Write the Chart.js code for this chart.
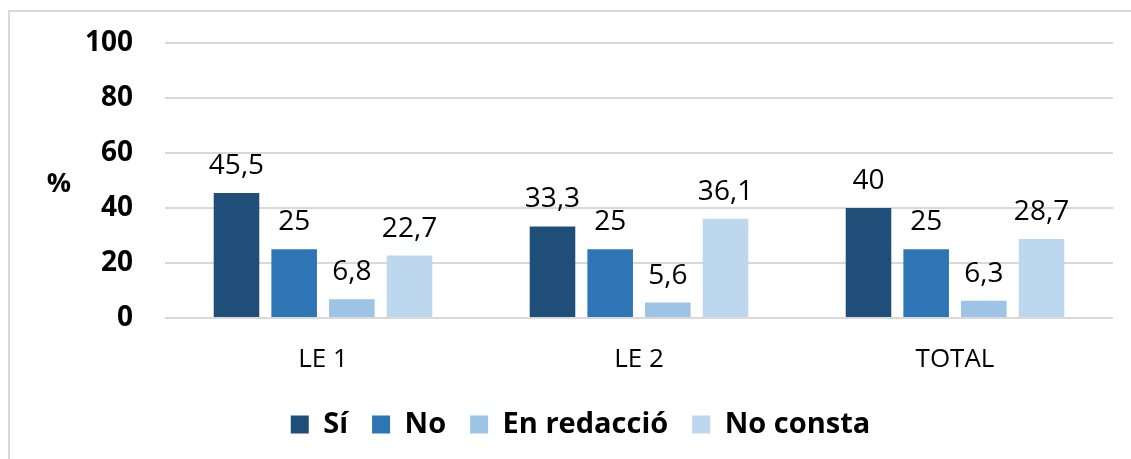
<!DOCTYPE html>
<html>
<head>
<meta charset="utf-8">
<script src="https://cdn.jsdelivr.net/npm/chart.js@4.4.0/dist/chart.umd.min.js"></script>
<style>
  html, body { margin: 0; padding: 0; background: #fff; }
  #wrap { position: relative; width: 1131px; height: 459px; }
</style>
</head>
<body>
<div id="wrap"><canvas id="chart" width="1131" height="459"></canvas></div>
<script>
// chart data
const categories = ["LE 1", "LE 2", "TOTAL"];
const seriesNames = ["Sí", "No", "En redacció", "No consta"];
const siValues = [45.5, 33.3, 40];
const noValues = [25, 25, 25];
const redaccioValues = [6.8, 5.6, 6.3];
const noConstaValues = [22.7, 36.1, 28.7];
const yTicks = [0, 20, 40, 60, 80, 100];

const colors = ["#1f4e79", "#2e75b6", "#9dc3e6", "#bdd7ee"];
const FONT = "'Open Sans', 'Noto Sans', sans-serif";

// frame around the chart + the "%" label
const framePlugin = {
    id: 'frame',
    beforeDraw(chart) {
        const ctx = chart.ctx;
        ctx.save();
        ctx.strokeStyle = '#d9d9d9';
        ctx.lineWidth = 2;
        ctx.strokeRect(9, 11, 1200, 600);
        ctx.restore();
    },
    afterDraw(chart) {
        const ctx = chart.ctx;
        ctx.save();
        ctx.fillStyle = '#000';
        ctx.font = "bold 27px " + FONT;
        ctx.textAlign = 'center';
        ctx.textBaseline = 'middle';
        ctx.fillText('%', 59, 184);
        ctx.restore();
    }
};

// value labels above the bars, comma decimals
const valueLabels = {
    id: 'valueLabels',
    afterDatasetsDraw(chart) {
        const ctx = chart.ctx;
        ctx.save();
        ctx.fillStyle = '#000';
        ctx.font = "28px " + FONT;
        ctx.textAlign = 'center';
        ctx.textBaseline = 'alphabetic';
        chart.data.datasets.forEach((ds, i) => {
            chart.getDatasetMeta(i).data.forEach((bar, j) => {
                const txt = String(ds.data[j]).replace('.', ',');
                ctx.fillText(txt, bar.x, bar.y - 19);
            });
        });
        ctx.restore();
    }
};

const ctx = document.getElementById('chart').getContext('2d');
new Chart(ctx, {
    type: 'bar',
    data: {
        labels: categories,
        datasets: [
            { label: seriesNames[0], data: siValues, backgroundColor: colors[0] },
            { label: seriesNames[1], data: noValues, backgroundColor: colors[1] },
            { label: seriesNames[2], data: redaccioValues, backgroundColor: colors[2] },
            { label: seriesNames[3], data: noConstaValues, backgroundColor: colors[3] }
        ]
    },
    options: {
        responsive: false,
        animation: false,
        layout: { padding: { top: 43, right: 18, bottom: 10, left: 48 } },
        datasets: { bar: { categoryPercentage: 0.73, barPercentage: 0.79 } },
        plugins: {
            legend: {
                position: 'bottom',
                labels: {
                    color: '#000',
                    font: { family: FONT, size: 29, weight: 'bold' },
                    boxWidth: 18,
                    boxHeight: 18,
                    padding: 24
                }
            },
            tooltip: { enabled: false }
        },
        scales: {
            y: {
                min: 0,
                max: 100,
                afterBuildTicks(scale) { scale.ticks = yTicks.map(v => ({ value: v })); },
                afterFit(scale) {
                    scale.width = 117;
                    scale.paddingTop = 0;
                    scale.paddingBottom = 0;
                },
                grid: { color: '#d9d9d9', lineWidth: 2, drawTicks: false },
                border: { display: false },
                ticks: {
                    color: '#000',
                    padding: 32,
                    font: { family: FONT, size: 28, weight: 'bold' }
                }
            },
            x: {
                afterFit(scale) { scale.height = 68; },
                grid: { display: false },
                border: { display: false },
                ticks: {
                    color: '#000',
                    padding: 18,
                    font: { family: FONT, size: 26 }
                }
            }
        }
    },
    plugins: [framePlugin, valueLabels]
});
</script>
</body>
</html>
